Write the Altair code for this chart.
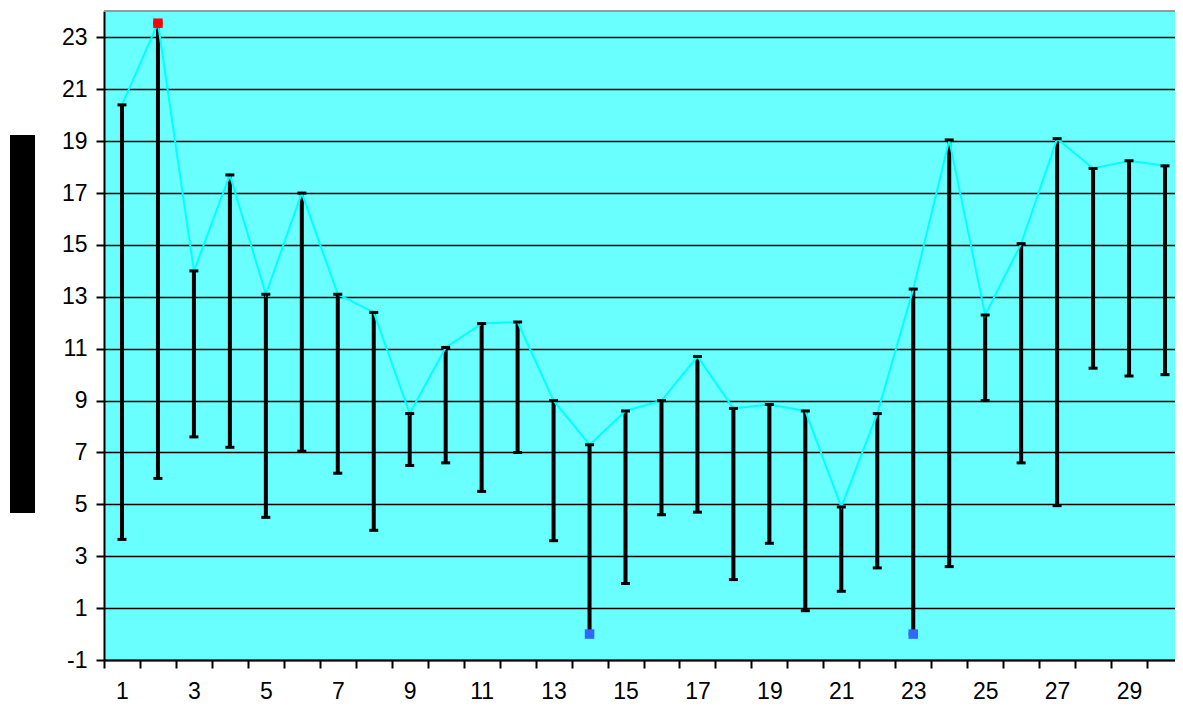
import altair as alt
import pandas as pd

days = list(range(1, 31))
highs = [20.4, 23.55, 14.0, 17.7, 13.1, 17.0, 13.1, 12.4, 8.5, 11.05,
         11.97, 12.03, 9.0, 7.3, 8.6, 9.0, 10.7, 8.7, 8.85, 8.6,
         4.9, 8.5, 13.3, 19.05, 12.3, 15.05, 19.1, 17.95, 18.25, 18.05]
lows = [3.65, 6.0, 7.6, 7.2, 4.5, 7.05, 6.2, 4.0, 6.5, 6.6,
        5.5, 7.0, 3.6, 0.0, 1.95, 4.6, 4.7, 2.1, 3.5, 0.9,
        1.65, 2.55, 0.0, 2.6, 9.0, 6.6, 4.95, 10.25, 9.95, 10.0]
y_ticks = [-1, 1, 3, 5, 7, 9, 11, 13, 15, 17, 19, 21, 23]

df = pd.DataFrame({"day": days, "high": highs, "low": lows})
max_df = df[df["high"] == df["high"].max()]
min_df = df[df["low"] == df["low"].min()]

FONT = "Liberation Sans"

x_enc = alt.X(
    "day:O",
    bandPosition=0.5,
    scale=alt.Scale(type="band", paddingInner=0, paddingOuter=0),
    axis=alt.Axis(
        title=None,
        tickBand="extent",
        labelExpr="datum.value % 2 == 1 ? datum.label : ''",
        labelAngle=0,
        labelFont=FONT,
        labelFontSize=23,
        labelColor="black",
        labelPadding=12,
        tickColor="black",
        tickSize=8,
        tickWidth=2,
        domainColor="black",
        domainWidth=2,
        grid=False,
    ),
)
y_scale = alt.Scale(domain=[-1, 24.02], nice=False, zero=False)
y_axis = alt.Axis(
    title=None,
    values=y_ticks,
    labelExpr="'' + datum.value",
    grid=True,
    gridColor="black",
    gridWidth=1.5,
    gridOpacity=1,
    labelFont=FONT,
    labelFontSize=23,
    labelColor="black",
    labelPadding=9,
    tickColor="black",
    tickSize=8,
    tickWidth=2,
    domainColor="black",
    domainWidth=2,
)

base = alt.Chart(df)

top_border = alt.Chart(pd.DataFrame({"a": [0]})).mark_rule(color="#999999", strokeWidth=2).encode(
    x=alt.value(0), x2=alt.value(1079), y=alt.value(0)
)
bars = base.mark_rule(color="black", strokeWidth=4).encode(
    x=x_enc,
    y=alt.Y("low:Q", scale=y_scale, axis=y_axis),
    y2="high:Q",
)
caps_hi = base.mark_tick(color="black", size=9, thickness=3, orient="horizontal", opacity=1).encode(
    x=alt.X("day:O", bandPosition=0.5), y="high:Q"
)
caps_lo = base.mark_tick(color="black", size=9, thickness=3, orient="horizontal", opacity=1).encode(
    x=alt.X("day:O", bandPosition=0.5), y="low:Q"
)
line = base.mark_line(color="#00FFFF", strokeWidth=2).encode(
    x=alt.X("day:O", bandPosition=0.5), y="high:Q"
)
max_pt = alt.Chart(max_df).mark_point(
    shape="square", filled=True, color="#FF0000", size=90, opacity=1
).encode(x=alt.X("day:O", bandPosition=0.5), y="high:Q")
min_pt = alt.Chart(min_df).mark_point(
    shape="square", filled=True, color="#3366FF", size=90, opacity=1
).encode(x=alt.X("day:O", bandPosition=0.5), y="low:Q")

title_box = alt.Chart(pd.DataFrame({"a": [0]})).mark_rect(color="black").encode(
    x=alt.value(-94), x2=alt.value(-69), y=alt.value(124), y2=alt.value(502)
)

chart = (
    alt.layer(bars, line, caps_hi, caps_lo, max_pt, min_pt, title_box, top_border)
    .properties(
        width=1079,
        height=649,
        autosize=alt.AutoSizeParams(type="none"),
        padding={"left": 96, "top": 3, "right": -8, "bottom": 44},
    )
    .configure_view(fill="#69FFFF", stroke=None, strokeWidth=0)
)

chart.save("out.html", embed_options={"renderer": "svg", "actions": False})
